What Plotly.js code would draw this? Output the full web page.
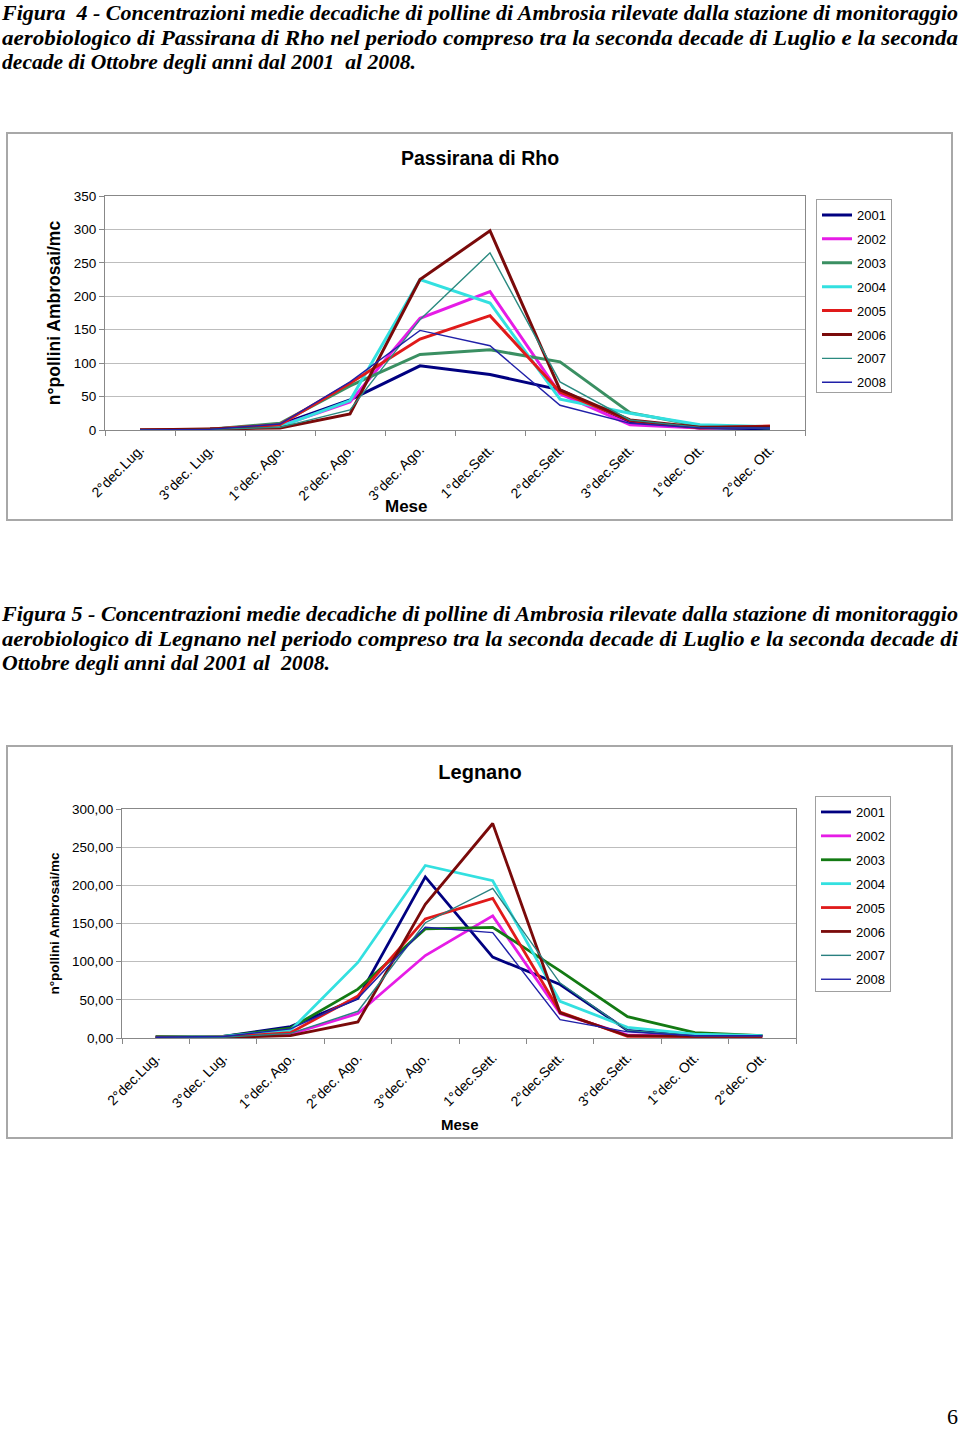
<!DOCTYPE html>
<html><head><meta charset="utf-8">
<script src="https://cdn.plot.ly/plotly-3.0.1.min.js"></script>
<style>
body{margin:0;width:960px;height:1432px;position:relative;background:#fff;overflow:hidden}
.cap{position:absolute;left:2px;font-family:"Liberation Serif","Times New Roman",serif;font-weight:bold;font-style:italic;font-size:22px;line-height:25px;white-space:nowrap;transform-origin:0 50%;color:#000}
.plot{position:absolute;left:7px;width:946px}
.frame{position:absolute;left:6px;width:947px;box-sizing:border-box;border:2px solid #a8a8a8;pointer-events:none}
#pg{position:absolute;left:947px;top:1404px;font-family:"Liberation Serif",serif;font-size:22px}
</style></head><body>

<div class="cap" style="top:0px" data-w="956">Figura&nbsp; 4 - Concentrazioni medie decadiche di polline di Ambrosia rilevate dalla stazione di monitoraggio</div>
<div class="cap" style="top:24.5px" data-w="956">aerobiologico di Passirana di Rho nel periodo compreso tra la seconda decade di Luglio e la seconda</div>
<div class="cap" style="top:49px" data-w="414">decade di Ottobre degli anni dal 2001&nbsp; al 2008.</div>

<div class="plot" id="c1" style="top:133px;height:387px"></div>
<div class="frame" style="top:132px;height:389px"></div>

<div class="cap" style="top:600.5px" data-w="956">Figura 5 - Concentrazioni medie decadiche di polline di Ambrosia rilevate dalla stazione di monitoraggio</div>
<div class="cap" style="top:625.5px" data-w="956">aerobiologico di Legnano nel periodo compreso tra la seconda decade di Luglio e la seconda decade di</div>
<div class="cap" style="top:650px" data-w="328">Ottobre degli anni dal 2001 al&nbsp; 2008.</div>

<div class="plot" id="c2" style="top:746px;height:392px"></div>
<div class="frame" style="top:745px;height:394px"></div>

<div id="pg">6</div>

<script>
// ---- data ----
const categories = ["2°dec.Lug.","3°dec. Lug.","1°dec. Ago.","2°dec. Ago.","3°dec. Ago.","1°dec.Sett.","2°dec.Sett.","3°dec.Sett.","1°dec. Ott.","2°dec. Ott."];
const years = ["2001","2002","2003","2004","2005","2006","2007","2008"];

// Passirana di Rho
const rho2001 = [0, 1, 8, 45, 96, 83, 60, 12, 3, 2];
const rho2002 = [0, 1, 6, 42, 167, 207, 54, 8, 3, 5];
const rho2003 = [0, 1, 10, 66, 113, 120, 102, 26, 6, 3];
const rho2004 = [0, 1, 5, 44, 225, 190, 46, 25, 8, 5];
const rho2005 = [0, 1, 8, 70, 136, 171, 57, 14, 3, 6];
const rho2006 = [0, 1, 3, 24, 225, 298, 60, 15, 4, 5];
const rho2007 = [0, 1, 4, 30, 165, 265, 72, 15, 4, 3];
const rho2008 = [0, 1, 9, 72, 149, 126, 37, 10, 3, 3];

// Legnano
const leg2001 = [1, 2, 15, 52, 211, 106, 70, 10, 3, 3.5];
const leg2002 = [1, 1, 5, 32, 108, 160, 32, 4, 2, 2];
const leg2003 = [2, 2, 13, 64, 143, 145, 88, 28, 7, 3];
const leg2004 = [1, 2, 10, 99, 226, 206, 48, 14, 5, 3];
const leg2005 = [1, 1, 7, 55, 156, 183, 34, 2, 2, 2];
const leg2006 = [0.5, 1, 3, 21, 175, 281, 33, 3, 2, 2];
const leg2007 = [1, 1, 6, 35, 151, 196, 72, 10, 3, 3];
const leg2008 = [1, 2, 12, 52, 145, 138, 24, 8, 3, 3];

// ---- styles ----
const rhoColors = ["#000080","#e61ce6","#3a8f62","#33e0e0","#e01a1a","#7a0a0a","#2b8a80","#2020a8"];
const legColors = ["#000080","#e61ce6","#137a13","#33e0e0","#e01a1a","#7a0a0a","#2a8080","#2020a8"];
const widths1 = [3,3,3,3,3,3,1.4,1.4];
const widths2 = [2.8,2.8,2.8,2.8,2.8,2.8,1.4,1.4];

const FONT = "Liberation Sans, Arial, sans-serif";

function traces(series, colors, widths){
  return series.map((y,i)=>({
    type:"scatter", mode:"lines", x:categories, y:y, name:years[i],
    legendgroup:"g"+years[i],
    line:{color:colors[i], width:widths[i]}, hoverinfo:"skip"
  }));
}

function layout(o){
  return {
    width:946, height:o.h, paper_bgcolor:"#fff", plot_bgcolor:"#fff",
    font:{family:FONT, size:13, color:"#000"},
    margin:{l:o.l, r:o.r, t:o.t, b:o.b, pad:0},
    separators: o.sep || ".,",
    title:{text:o.title, font:{size:o.tsize, weight:"bold", family:FONT}, x:0.5, xref:"container", y:o.ty, yref:"container", yanchor:"middle"},
    showlegend:true,
    legend:{x:o.lx, y:o.ly, xref:"container", yref:"container", xanchor:"left", yanchor:"top",
      bordercolor:"#a0a0a0", borderwidth:1, font:{size:13, family:FONT}, tracegroupgap:4, traceorder:"grouped", bgcolor:"#fff"},
    xaxis:{type:"category", tickangle:-45, tickfont:{size:14}, ticks:"outside", ticklen:5, tickcolor:"#888",
      ticklabelstandoff:5,
      tickson:"boundaries", showgrid:false, showline:true, linecolor:"#888", linewidth:1, mirror:true,
      range:[-0.5, 9.5], fixedrange:true, automargin:false},
    yaxis:{range:[0, o.ymax], dtick:50, tick0:0, tickformat:o.fmt || "", ticks:"outside", ticklen:5, tickcolor:"#888",
      showgrid:true, gridcolor:"#bdbdbd", gridwidth:1, showline:true, linecolor:"#888", linewidth:1, mirror:true,
      zeroline:false, tickfont:{size:13.5}, automargin:false,
      title:{text:"n°pollini Ambrosai/mc", font:{size:o.ysize, weight:"bold", family:FONT}, standoff:o.stand}},
    annotations:[{text:"Mese", xref:"paper", yref:"paper", x:o.mx, y:o.my, xanchor:"center", yanchor:"middle",
      showarrow:false, font:{size:o.msize, weight:"bold", family:FONT}}]
  };
}

const cfg = {displayModeBar:false, staticPlot:true};

Plotly.newPlot("c1",
  traces([rho2001,rho2002,rho2003,rho2004,rho2005,rho2006,rho2007,rho2008], rhoColors, widths1),
  layout({h:387, l:98, r:148, t:63, b:90, title:"Passirana di Rho", tsize:19.5, ty:1-25/387,
    lx:809/946, ly:1-66/387, ymax:350, ysize:17.5, stand:8,
    mx:(406.5-105)/700, my:-(506-430)/234, msize:17}), cfg);

Plotly.newPlot("c2",
  traces([leg2001,leg2002,leg2003,leg2004,leg2005,leg2006,leg2007,leg2008], legColors, widths2),
  layout({h:392, l:115, r:157, t:63.3, b:99.5, title:"Legnano", tsize:20, ty:1-26/392,
    lx:808/946, ly:1-50/392, ymax:300, ysize:13.5, stand:9, sep:",.", fmt:".2f",
    mx:(460-122)/674, my:-(1125-1038.5)/229.2, msize:15}), cfg);

// fit caption lines to their measured widths in the reference
document.querySelectorAll(".cap").forEach(el=>{
  const w = el.getBoundingClientRect().width;
  const target = parseFloat(el.dataset.w);
  el.style.transform = "scaleX(" + (target / w) + ")";
});
</script>
</body></html>
